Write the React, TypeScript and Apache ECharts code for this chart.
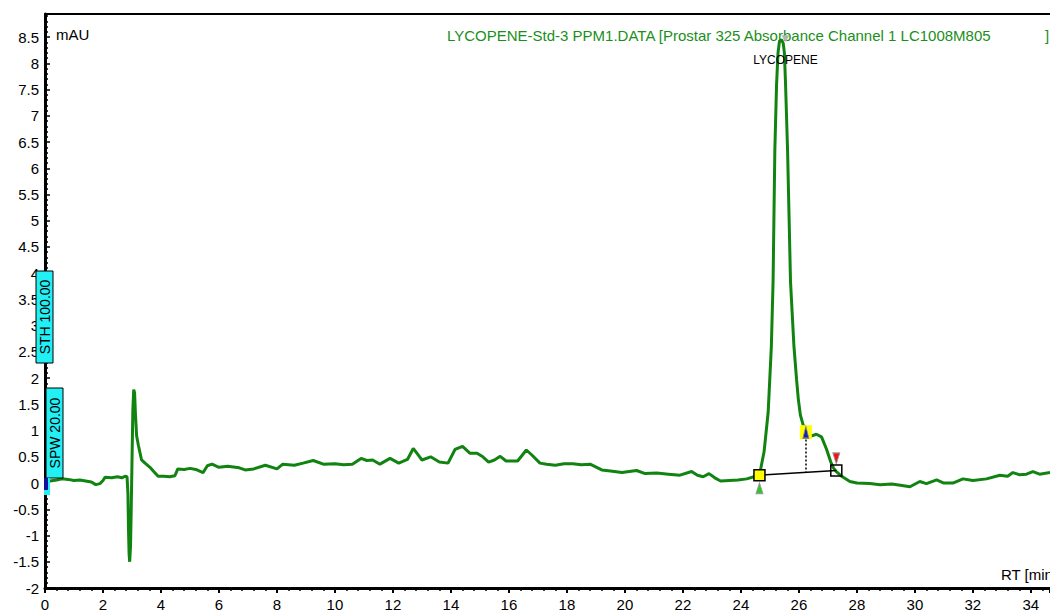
import React, { useEffect, useRef } from "react";
import * as echarts from "echarts";

const rtMinutes = [
  0.1, 0.17, 0.4, 0.59, 0.8, 1.0, 1.2, 1.4, 1.6, 1.75, 1.9, 2.0, 2.07, 2.3, 2.5, 2.65, 2.76, 2.83,
  2.86, 2.88, 2.9, 2.92, 2.95, 2.97, 3.0, 3.03, 3.06, 3.09, 3.12, 3.16, 3.22, 3.33, 3.45, 3.62,
  3.75, 3.9, 4.1, 4.3, 4.48, 4.58, 4.8, 5.0, 5.2, 5.45, 5.6, 5.76, 6.0, 6.3, 6.7, 6.9, 7.2, 7.6,
  8.0, 8.2, 8.6, 8.9, 9.25, 9.6, 10.0, 10.3, 10.6, 10.9, 11.1, 11.3, 11.55, 11.9, 12.2, 12.5,
  12.7, 12.85, 13.0, 13.3, 13.6, 13.9, 14.14, 14.4, 14.65, 14.9, 15.1, 15.3, 15.5, 15.7, 15.9,
  16.3, 16.6, 16.8, 17.07, 17.3, 17.6, 17.9, 18.2, 18.5, 18.8, 19.2, 19.5, 19.9, 20.4, 20.7,
  21.1, 21.5, 21.9, 22.3, 22.5, 22.7, 22.9, 23.1, 23.3, 23.6, 23.9, 24.2, 24.45, 24.64, 24.8,
  24.94, 25.05, 25.11, 25.14, 25.17, 25.23, 25.28, 25.33, 25.4, 25.46, 25.5, 25.54, 25.61,
  25.66, 25.71, 25.83, 25.92, 25.98, 26.05, 26.15, 26.3, 26.45, 26.6, 26.78, 26.95, 27.1,
  27.2, 27.29, 27.5, 27.76, 28.0, 28.45, 28.8, 29.2, 29.5, 29.83, 30.17, 30.4, 30.75, 31.0,
  31.31, 31.66, 32.0, 32.47, 32.93, 33.2, 33.38, 33.6, 33.85, 34.07, 34.3, 34.66,
];

const absorbance = [
  0.05, 0.04, 0.06, 0.08, 0.07, 0.05, 0.06, 0.04, 0.02, -0.03, -0.01, 0.05, 0.11, 0.1, 0.12, 0.1,
  0.13, 0.12, -0.2, -0.9, -1.35, -1.5, -1.2, -0.6, 0.4, 1.4, 1.78, 1.72, 1.3, 0.9, 0.72, 0.44,
  0.38, 0.3, 0.22, 0.13, 0.13, 0.12, 0.14, 0.27, 0.26, 0.28, 0.26, 0.2, 0.33, 0.36, 0.3, 0.32,
  0.29, 0.25, 0.27, 0.34, 0.27, 0.36, 0.34, 0.38, 0.43, 0.36, 0.37, 0.35, 0.36, 0.47, 0.43,
  0.44, 0.36, 0.47, 0.38, 0.45, 0.66, 0.55, 0.44, 0.5, 0.4, 0.38, 0.64, 0.7, 0.57, 0.57, 0.5,
  0.4, 0.44, 0.51, 0.42, 0.42, 0.63, 0.53, 0.38, 0.36, 0.34, 0.37, 0.37, 0.35, 0.36, 0.25, 0.23,
  0.2, 0.24, 0.18, 0.19, 0.17, 0.15, 0.22, 0.15, 0.12, 0.18, 0.1, 0.04, 0.05, 0.06, 0.08, 0.12,
  0.15, 0.6, 1.35, 2.6, 3.85, 5.1, 6.33, 7.6, 8.2, 8.42, 8.45, 8.38, 8.2, 7.6, 6.33, 5.1, 3.85,
  2.6, 1.97, 1.6, 1.3, 1.1, 0.95, 0.9, 0.93, 0.88, 0.65, 0.4, 0.28, 0.22, 0.12, 0.03, 0.0,
  -0.01, -0.03, -0.02, -0.04, -0.07, 0.03, -0.01, 0.06, 0.0, 0.0, 0.08, 0.05, 0.08, 0.15, 0.13,
  0.2, 0.16, 0.17, 0.22, 0.17, 0.2,
];

const peakName = "LYCOPENE";
const peakApex = [25.4, 8.45];
const peakStart = [24.64, 0.15];
const peakEnd = [27.29, 0.24];
const peakMarkerTime = 26.24;
const peakMarkerValue = 0.97;

const titleText = "LYCOPENE-Std-3 PPM1.DATA [Prostar 325 Absorbance Channel 1 LC1008M805";
const yUnit = "mAU";
const xUnit = "RT [min]";
const eventLabels = ["STH 100.00", "SPW 20.00"];

const X_MIN = 0;
const X_MAX = 34.66;
const Y_MIN = -2;
const Y_MAX = 8.94;

export default function App() {
  const ref = useRef<HTMLDivElement>(null);

  useEffect(() => {
    document.body.style.margin = "0";
    if (!ref.current) return;
    const chart = echarts.init(ref.current, undefined, { renderer: "svg" });
    const data = rtMinutes.map((t, i) => [t, absorbance[i]]);
    const font = "Arial, 'Liberation Sans', sans-serif";
    const baselineAtMarker =
      peakStart[1] + ((peakMarkerTime - peakStart[0]) / (peakEnd[0] - peakStart[0])) * (peakEnd[1] - peakStart[1]);

    const option: any = {
      animation: false,
      backgroundColor: "#fff",
      grid: { left: 45, top: 14, right: 0, bottom: 28 },
      xAxis: [
        {
          type: "value",
          min: X_MIN,
          max: X_MAX,
          interval: 2,
          position: "bottom",
          axisLine: { show: true, onZero: false, lineStyle: { color: "#000", width: 3 } },
          axisTick: { show: true, length: 5, lineStyle: { color: "#000", width: 2 } },
          minorTick: { show: true, splitNumber: 5, length: 3, lineStyle: { color: "#000", width: 1.5 } },
          axisLabel: {
            color: "#000",
            fontSize: 15,
            fontFamily: font,
            margin: 9,
            showMaxLabel: false,
            formatter: (v: number) => (Math.abs(v / 2 - Math.round(v / 2)) < 1e-6 ? String(Math.round(v)) : ""),
          },
          splitLine: { show: false },
        },
        {
          type: "value",
          min: X_MIN,
          max: X_MAX,
          position: "top",
          axisLine: { show: true, onZero: false, lineStyle: { color: "#000", width: 2 } },
          axisTick: { show: false },
          axisLabel: { show: false },
          splitLine: { show: false },
        },
      ],
      yAxis: {
        type: "value",
        min: Y_MIN,
        max: Y_MAX,
        interval: 0.5,
        axisLine: { show: true, onZero: false, lineStyle: { color: "#000", width: 3 } },
        axisTick: { show: true, length: 5, inside: true, lineStyle: { color: "#000", width: 1.5 } },
        minorTick: { show: true, splitNumber: 5, length: 3, lineStyle: { color: "#000", width: 1.5 } },
        axisLabel: {
          color: "#000",
          fontSize: 15,
          fontFamily: font,
          margin: 6,
          showMaxLabel: false,
          formatter: (v: number) => (Math.abs(v * 2 - Math.round(v * 2)) < 1e-6 ? String(Math.round(v * 2) / 2) : ""),
        },
        splitLine: { show: false },
      },
      series: [
        {
          type: "line",
          xAxisIndex: 0,
          data,
          showSymbol: false,
          symbol: "none",
          lineStyle: { color: "#118311", width: 3 },
          z: 3,
          markLine: {
            silent: true,
            symbol: ["none", "none"],
            label: { show: false },
            data: [
              [
                { coord: peakStart, lineStyle: { color: "#000", width: 1.5, type: "solid" } },
                { coord: peakEnd },
              ],
              [
                { coord: [peakMarkerTime, peakMarkerValue - 0.14], lineStyle: { color: "#000", width: 1.5, type: [2, 2] } },
                { coord: [peakMarkerTime, baselineAtMarker] },
              ],
            ],
          },
          markPoint: {
            silent: true,
            data: [
              {
                coord: peakApex,
                symbol: "triangle",
                symbolSize: [8, 7],
                symbolRotate: 180,
                symbolOffset: [4, -1],
                itemStyle: { color: "#b4b4b4" },
                label: {
                  show: true,
                  formatter: peakName,
                  position: "bottom",
                  distance: 12,
                  color: "#000",
                  fontSize: 12,
                  fontFamily: font,
                },
              },
              {
                coord: peakStart,
                symbol: "triangle",
                symbolSize: [7, 11],
                symbolOffset: [0, 13],
                itemStyle: { color: "#22cc22", borderColor: "#999", borderWidth: 1 },
                label: { show: false },
              },
              {
                coord: peakStart,
                symbol: "rect",
                symbolSize: 11,
                itemStyle: { color: "#ffff00", borderColor: "#000", borderWidth: 1.5 },
                label: { show: false },
              },
              {
                coord: peakEnd,
                symbol: "triangle",
                symbolSize: [7, 11],
                symbolRotate: 180,
                symbolOffset: [0, -12],
                itemStyle: { color: "#ee1515", borderColor: "#999", borderWidth: 1 },
                label: { show: false },
              },
              {
                coord: peakEnd,
                symbol: "rect",
                symbolSize: 11,
                itemStyle: { color: "rgba(0,0,0,0)", borderColor: "#000", borderWidth: 1.5 },
                label: { show: false },
              },
              {
                coord: [peakMarkerTime, peakMarkerValue],
                symbol: "rect",
                symbolSize: [12, 14],
                itemStyle: { color: "#ffff00" },
                label: { show: false },
              },
              {
                coord: [peakMarkerTime, peakMarkerValue],
                symbol: "triangle",
                symbolSize: [6, 12],
                itemStyle: { color: "#2020b0", borderColor: "#888", borderWidth: 1 },
                label: { show: false },
              },
            ],
          },
        },
      ],
      graphic: [
        {
          type: "text",
          x: 56,
          y: 34,
          style: { text: yUnit, fill: "#000", fontSize: 15, fontFamily: font, verticalAlign: "middle" },
        },
        {
          type: "text",
          x: 447,
          y: 35,
          style: { text: titleText, fill: "#1a8f1a", fontSize: 15, fontFamily: font, verticalAlign: "middle" },
        },
        {
          type: "text",
          x: 1045,
          y: 35,
          style: { text: "]", fill: "#1a8f1a", fontSize: 15, fontFamily: font, verticalAlign: "middle" },
        },
        {
          type: "text",
          x: 1001,
          y: 574,
          style: { text: xUnit, fill: "#000", fontSize: 15, fontFamily: font, verticalAlign: "middle" },
        },
        {
          type: "rect",
          shape: { x: 36, y: 271, width: 17, height: 92 },
          style: { fill: "#22f0f5", stroke: "#000", lineWidth: 1 },
          z: 10,
        },
        {
          type: "text",
          x: 44.5,
          y: 317,
          rotation: Math.PI / 2,
          style: { text: eventLabels[0], fill: "#000", fontSize: 14, fontFamily: font, align: "center", verticalAlign: "middle" },
          z: 11,
        },
        {
          type: "rect",
          shape: { x: 46, y: 388, width: 17, height: 90 },
          style: { fill: "#22f0f5", stroke: "#000", lineWidth: 1 },
          z: 10,
        },
        {
          type: "text",
          x: 54.5,
          y: 433,
          rotation: Math.PI / 2,
          style: { text: eventLabels[1], fill: "#000", fontSize: 14, fontFamily: font, align: "center", verticalAlign: "middle" },
          z: 11,
        },
        {
          type: "rect",
          shape: { x: 44, y: 478, width: 6, height: 17 },
          style: { fill: "#22f0f5" },
          z: 10,
        },
        {
          type: "rect",
          shape: { x: 44, y: 478, width: 4, height: 12 },
          style: { fill: "#1010a0" },
          z: 11,
        },
      ],
    };

    chart.setOption(option);
    return () => chart.dispose();
  }, []);

  return (
    <div
      ref={ref}
      style={{ position: "absolute", left: 0, top: 0, width: 1050, height: 616, background: "#fff" }}
    />
  );
}
